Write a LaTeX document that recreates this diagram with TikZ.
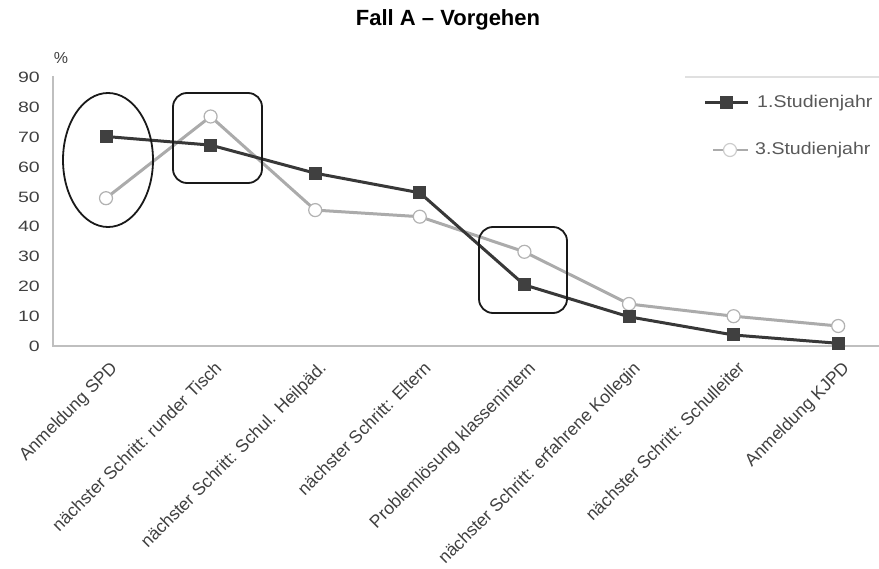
\documentclass[tikz,border=0pt]{standalone}
\usepackage{fontspec}
\setmainfont{Liberation Sans}
\usetikzlibrary{shapes.geometric}
\begin{document}
\begin{tikzpicture}[x=1pt,y=-1pt,
  ax/.style={draw=black!25, line width=1.8pt},
  s1/.style={draw=black!78, line width=3pt, line join=round},
  s2/.style={draw=black!33, line width=3pt, line join=round},
  sq/.style={rectangle, fill=black!75, minimum size=13pt, inner sep=0pt},
  ci/.style={circle, draw=black!30, fill=white, line width=1.2pt, minimum size=13pt, inner sep=0pt},
  hl/.style={draw=black!90, line width=1.8pt},
  tick/.style={font=\fontsize{15}{15}\selectfont, text=black!75, anchor=east, inner sep=0pt},
  cat/.style={font=\fontsize{17.6}{18}\selectfont, text=black!75, rotate=45, anchor=north east, inner sep=0pt},
  leg/.style={font=\fontsize{17}{17}\selectfont, text=black!65, anchor=west, inner sep=0pt},
]
\useasboundingbox (0,0) rectangle (879,569);

% title
\node[font=\bfseries\fontsize{22}{22}\selectfont] (title) at (448,20) {Fall A -- Vorgehen};

% axes
\coordinate (o) at (53,346);
\coordinate (yt) at (53,76);
\coordinate (xe) at (879,346);
\draw[ax] (yt) -- (o) -- (xe);
\node[font=\fontsize{16}{16}\selectfont, text=black!75] (pct) at (61,58) {\%};
\foreach \v in {0,10,...,90}{
  \node[tick] (t\v) at (40,346-\v*2.98) {\scalebox{1.3}[1]{\v}};
}

% data coordinates
\foreach \i/\x/\ya/\yb in {1/106/136.5/198.2, 2/210.6/145.1/116.5, 3/315.2/173.2/210.1, 4/419.8/192.8/216.7,
  5/524.4/284.9/251.8, 6/629/316.8/304, 7/733.6/335/316.2, 8/838.2/343.3/326}{
  \coordinate (a\i) at (\x,\ya);
  \coordinate (b\i) at (\x,\yb);
}
\draw[s2] (b1) -- (b2) -- (b3) -- (b4) -- (b5) -- (b6) -- (b7) -- (b8);
\foreach \i in {1,...,8}{ \node[ci] (mb\i) at (b\i) {}; }
\draw[s1] (a1) -- (a2) -- (a3) -- (a4) -- (a5) -- (a6) -- (a7) -- (a8);
\foreach \i in {1,...,8}{ \node[sq] (ma\i) at (a\i) {}; }

% category labels
\foreach \i/\x/\t in {1/106/Anmeldung SPD, 2/210.6/{nächster Schritt: runder Tisch},
  3/315.2/{nächster Schritt: Schul. Heilpäd.}, 4/419.8/{nächster Schritt: Eltern},
  5/524.4/Problemlösung klassenintern, 6/629/{nächster Schritt: erfahrene Kollegin},
  7/733.6/{nächster Schritt: Schulleiter}, 8/838.2/Anmeldung KJPD}{
  \node[cat] (c\i) at (\x+3,360) {\t};
}

% highlights
\node[hl, ellipse, minimum width=90pt, minimum height=134pt, inner sep=0pt] (ell) at (108,160) {};
\node[hl, rectangle, rounded corners=14pt, minimum width=89pt, minimum height=90pt] (box1) at (217.5,138) {};
\node[hl, rectangle, rounded corners=14pt, minimum width=88pt, minimum height=86pt] (box2) at (523,270) {};

% legend
\coordinate (l0) at (685,77);
\coordinate (l1) at (879,77);
\draw[draw=black!12, line width=1.5pt] (l0) -- (l1);
\coordinate (la1) at (705,103); \coordinate (la2) at (748,103);
\draw[s1] (la1) -- (la2);
\node[sq] (lma) at (726,103) {};
\node[leg] (lta) at (757,103) {\scalebox{1.15}[1]{1.Studienjahr}};
\coordinate (lb1) at (713,150); \coordinate (lb2) at (748,150);
\draw[s2, line width=2pt] (lb1) -- (lb2);
\node[ci, draw=black!20] (lmb) at (730,150) {};
\node[leg] (ltb) at (755,150) {\scalebox{1.15}[1]{3.Studienjahr}};
\end{tikzpicture}
\end{document}
